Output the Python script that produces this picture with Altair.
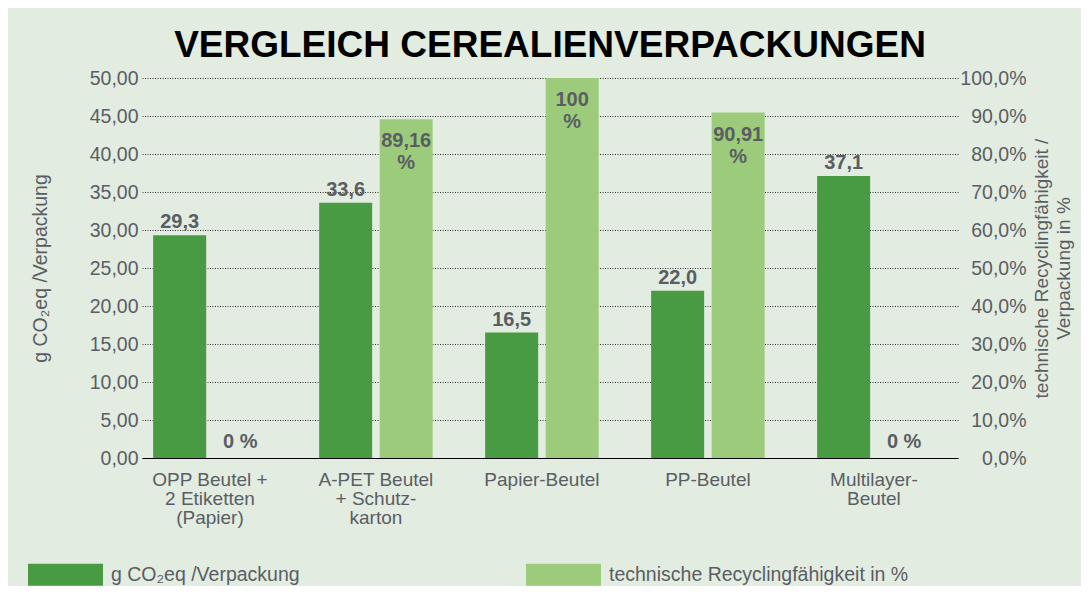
import altair as alt
import pandas as pd

# ---- data ----
categories = ["OPP Beutel +|2 Etiketten|(Papier)", "A-PET Beutel|+ Schutz-|karton",
              "Papier-Beutel", "PP-Beutel", "Multilayer-|Beutel"]
co2_values = [29.3, 33.6, 16.5, 22.0, 37.1]
recycling_values = [0, 89.16, 100, 90.91, 0]
series_names = ["g CO\u2082eq /Verpackung", "technische Recyclingfähigkeit in %"]
left_ticks = [0, 5, 10, 15, 20, 25, 30, 35, 40, 45, 50]
right_ticks = [0, 10, 20, 30, 40, 50, 60, 70, 80, 90, 100]

co2_labels = [f"{v:.1f}".replace(".", ",") for v in co2_values]
rec_labels = [(f"{v:g}".replace(".", ",") + "\n%") if v > 0 else "0 %" for v in recycling_values]

df1 = pd.DataFrame({"cat": categories, "value": co2_values, "series": series_names[0], "label": co2_labels})
df2 = pd.DataFrame({"cat": categories, "value": recycling_values, "series": series_names[1], "label": rec_labels})

DARK = "#489b43"
LIGHT = "#9ccc7b"
BG = "#e2ece1"
TXT = "#5a5e63"
FONT = "Liberation Sans"

xenc = alt.X("cat:N", sort=categories,
             scale=alt.Scale(paddingInner=0.316, paddingOuter=0.116, align=0.29),
             axis=alt.Axis(title=None, labelExpr="split(datum.label, '|')", labelAngle=0,
                           labelFontSize=19, labelLineHeight=19, labelPadding=12,
                           labelColor=TXT, labelFont=FONT, domainColor="black", domainWidth=1.2,
                           ticks=False, grid=False, labelBaseline="top"))
xoff = alt.XOffset("series:N", scale=alt.Scale(domain=series_names, paddingInner=0.124, paddingOuter=0))
color = alt.Color("series:N", scale=alt.Scale(domain=series_names, range=[DARK, LIGHT]),
                  legend=alt.Legend(orient="none", legendX=-114, legendY=459, direction="horizontal",
                                    columns=2, title=None, padding=0,
                                    symbolType="M-1,-0.2933H1V0.2933H-1Z", symbolSize=5625,
                                    symbolStrokeWidth=0, symbolOpacity=1,
                                    labelFontSize=19.5, labelFont=FONT, labelColor=TXT,
                                    labelOffset=8, columnPadding=226, labelLimit=500))

yleft = alt.Y("value:Q", scale=alt.Scale(domain=[0, 50], nice=False),
              axis=alt.Axis(values=left_ticks, labelExpr="replace(format(datum.value, '.2f'), '.', ',')",
                            grid=True, gridDash=[1, 1.5], gridColor="#333333", gridWidth=1,
                            domain=False, ticks=False, labelPadding=4, labelFontSize=19.5,
                            labelColor=TXT, labelFont=FONT,
                            title="g CO\u2082eq /Verpackung", titleFontSize=19.5, titleFontWeight="normal",
                            titleColor=TXT, titleFont=FONT, titleX=-102, titleY=190,
                            titleBaseline="middle", titleAlign="center", titleAngle=270))

yright = alt.Y("value:Q", scale=alt.Scale(domain=[0, 100], nice=False),
               axis=alt.Axis(orient="right", values=right_ticks,
                             labelExpr="replace(format(datum.value, '.1f'), '.', ',') + '%'",
                             grid=False, domain=False, ticks=False, labelAlign="right", labelPadding=68,
                             labelFontSize=19.5, labelColor=TXT, labelFont=FONT,
                             title=["technische Recyclingfähigkeit /", "Verpackung in %"],
                             titleFontSize=19, titleFontWeight="normal", titleColor=TXT, titleFont=FONT,
                             titleX=83, titleY=190, titleBaseline="middle", titleAlign="center",
                             titleAngle=270, titleLineHeight=22))

bars1 = alt.Chart(df1).mark_bar().encode(x=xenc, xOffset=xoff, y=yleft, color=color)
text1 = alt.Chart(df1).mark_text(baseline="bottom", dy=-3, fontSize=20, fontWeight="bold",
                                 color=TXT, font=FONT).encode(x=xenc, xOffset=xoff, y=yleft, text="label:N")
left = alt.layer(bars1, text1)

bars2 = alt.Chart(df2).mark_bar().encode(x=xenc, xOffset=xoff, y=yright, color=color)
text2a = alt.Chart(df2).transform_filter("datum.value > 0").mark_text(
    baseline="top", dy=12, fontSize=20, fontWeight="bold", color=TXT, font=FONT,
    lineBreak="\n", lineHeight=22).encode(x=xenc, xOffset=xoff, y=yright, text="label:N")
text2b = alt.Chart(df2).transform_filter("datum.value == 0").mark_text(
    baseline="bottom", dy=-6, fontSize=20, fontWeight="bold", color=TXT, font=FONT).encode(
    x=xenc, xOffset=xoff, y=yright, text="label:N")
right = alt.layer(bars2, text2a, text2b)

chart = alt.layer(left, right).resolve_scale(y="independent").properties(
    width=816, height=380,
    autosize=alt.AutoSizeParams(type="none"),
    padding={"left": 134, "top": 70, "right": 123, "bottom": 128},
    title=alt.TitleParams("VERGLEICH CEREALIENVERPACKUNGEN", fontSize=37, fontWeight="bold",
                          font=FONT, color="black", anchor="middle", frame="group",
                          baseline="alphabetic", offset=21, dy=47),
).configure(background=BG).configure_view(stroke=None)

chart.save("out.html", embed_options={"renderer": "svg", "actions": False})
